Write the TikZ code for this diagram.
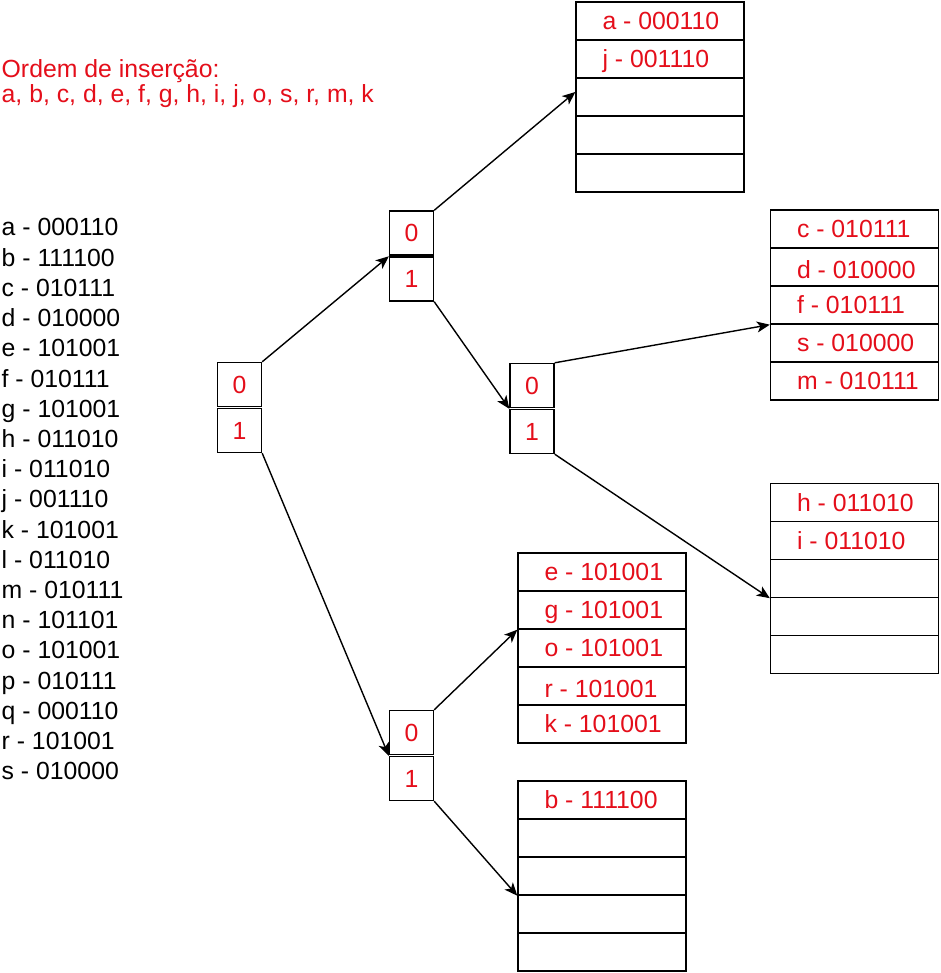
\documentclass[tikz,border=0pt]{standalone}
\usepackage{fontspec}
\setmainfont{Liberation Sans}
\usetikzlibrary{arrows.meta,positioning}
\definecolor{txtred}{RGB}{228,14,26}

\begin{document}
\begin{tikzpicture}[x=1pt,y=-1pt,font=\fontsize{24.8pt}{29pt}\selectfont,>=Stealth]
  \tikzset{
    bit/.style={draw,line width=1.4pt,minimum width=44pt,minimum height=44pt,inner sep=0pt,text=txtred},
    cell/.style={draw,line width=1.4pt,minimum width=168pt,minimum height=38pt,inner sep=0pt},
    entry/.style={anchor=west,inner sep=0pt,text height=17.7pt,text depth=0pt,text=txtred},
    link/.style={-{Stealth[length=13pt,width=11pt,inset=3.5pt]},line width=1.4pt}
  }
  \useasboundingbox (0,0) rectangle (940,973);
  % insertion order
  \node[anchor=base west,inner sep=0pt,text=txtred] (ord1) at (1.5,78) {Ordem de inserção:};
  \node[anchor=base west,inner sep=0pt,text=txtred] (ord2) at (1.5,103) {a, b, c, d, e, f, g, h, i, j, o, s, r, m, k};
  % keys and their hashes
  \foreach \k [count=\i from 0] in {a - 000110, b - 111100, c - 010111, d - 010000, e - 101001,
      f - 010111, g - 101001, h - 011010, i - 011010, j - 001110, k - 101001, l - 011010,
      m - 010111, n - 101101, o - 101001, p - 010111, q - 000110, r - 101001, s - 010000}
    \node[anchor=base west,inner sep=0pt] (key\i) at (1.5,{236+30.2*\i}) {\k};
  % directory nodes
  \node[bit] (r0) at (239.5,384.5) {0};
  \node[bit,below=0.6pt of r0] (r1) {1};
  \node[bit] (a0) at (411.5,233) {0};
  \node[bit,below=0.6pt of a0] (a1) {1};
  \node[bit] (b0) at (532,385.5) {0};
  \node[bit,below=0.6pt of b0] (b1) {1};
  \node[bit] (c0) at (411.5,732.5) {0};
  \node[bit,below=0.6pt of c0] (c1) {1};
  % buckets
  \foreach \i in {1,...,5} {
    \node[cell] (pg00-\i) at (660,{21+38*(\i-1)}) {};
    \node[cell] (pg010-\i) at (854.5,{229+38*(\i-1)}) {};
    \node[cell] (pg011-\i) at (854.5,{502.5+38*(\i-1)}) {};
    \node[cell] (pg10-\i) at (602,{572+38*(\i-1)}) {};
    \node[cell] (pg11-\i) at (602,{800+38*(\i-1)}) {};
  }
  \node[entry] (ea) at ([xshift=27pt]pg00-1.west) {a - 000110};
  \node[entry] (ej) at ([xshift=27pt]pg00-2.west) {j - 001110};
  \node[entry] (ec) at ([xshift=27pt]pg010-1.west) {c - 010111};
  \node[entry] (ed) at ([xshift=27pt,yshift=-3pt]pg010-2.west) {d - 010000};
  \node[entry] (ef) at ([xshift=27pt]pg010-3.west) {f - 010111};
  \node[entry] (es) at ([xshift=27pt]pg010-4.west) {s - 010000};
  \node[entry] (em) at ([xshift=27pt]pg010-5.west) {m - 010111};
  \node[entry] (eh) at ([xshift=27pt]pg011-1.west) {h - 011010};
  \node[entry] (ei) at ([xshift=27pt]pg011-2.west) {i - 011010};
  \node[entry] (ee) at ([xshift=27pt]pg10-1.west) {e - 101001};
  \node[entry] (eg) at ([xshift=27pt]pg10-2.west) {g - 101001};
  \node[entry] (eo) at ([xshift=27pt]pg10-3.west) {o - 101001};
  \node[entry] (er) at ([xshift=27pt,yshift=-3pt]pg10-4.west) {r - 101001};
  \node[entry] (ek) at ([xshift=27pt]pg10-5.west) {k - 101001};
  \node[entry] (eb) at ([xshift=27pt]pg11-1.west) {b - 111100};
  % pointers
  \draw[link] (r0.north east) -- (a1.north west);
  \draw[link] (r1.south east) -- (c1.north west);
  \draw[link] (a0.north east) -- ([yshift=5pt]pg00-3.west);
  \draw[link] (a1.south east) -- (b1.north west);
  \draw[link] (b0.north east) -- (pg010-3.south west);
  \draw[link] (b1.south east) -- (pg011-3.south west);
  \draw[link] (c0.north east) -- (pg10-2.south west);
  \draw[link] (c1.south east) -- (pg11-3.south west);
\end{tikzpicture}
\end{document}
